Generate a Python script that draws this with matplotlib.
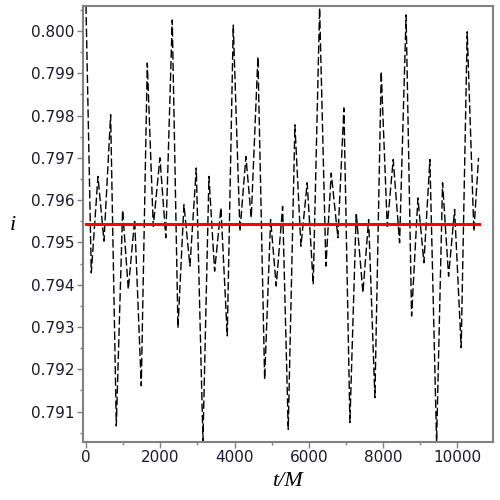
import matplotlib
matplotlib.use("Agg")
import matplotlib.pyplot as plt
from matplotlib.ticker import MultipleLocator, FormatStrFormatter

t_vals = [0, 143, 323, 485, 664, 817, 987, 1140, 1311, 1489, 1651, 1812, 1992, 2150,
          2323, 2477, 2638, 2800, 2970, 3150, 3311, 3464, 3634, 3804, 3966, 4146,
          4307, 4450, 4630, 4811, 4972, 5123, 5295, 5446, 5626, 5788, 5957, 6119,
          6291, 6461, 6604, 6784, 6946, 7107, 7277, 7457, 7611, 7780, 7950, 8112,
          8273, 8445, 8620, 8768, 8938, 9100, 9261, 9441, 9602, 9764, 9926, 10103,
          10265, 10445, 10571]
# inclination values i
i_vals = [0.80060, 0.79428, 0.79656, 0.79503, 0.79802, 0.79066, 0.79576, 0.79389,
          0.79554, 0.79161, 0.79924, 0.79538, 0.79700, 0.79511,
          0.80026, 0.79298, 0.79589, 0.79444, 0.79676, 0.79031, 0.79656, 0.79432,
          0.79582, 0.79279, 0.80014, 0.79526,
          0.79703, 0.79558, 0.79939, 0.79176, 0.79554, 0.79397, 0.79585, 0.79058,
          0.79778, 0.79491, 0.79641, 0.79401,
          0.80054, 0.79444, 0.79664, 0.79511, 0.79818, 0.79074, 0.79570, 0.79381,
          0.79554, 0.79133, 0.79904, 0.79538,
          0.79696, 0.79499, 0.80038, 0.79326, 0.79605, 0.79452, 0.79696, 0.79027,
          0.79641, 0.79420, 0.79578, 0.79251,
          0.79998, 0.79526, 0.79700]
mean_i = 0.79544
x_ticks = [0, 2000, 4000, 6000, 8000, 10000]
y_ticks = [0.791, 0.792, 0.793, 0.794, 0.795, 0.796, 0.797, 0.798, 0.799, 0.800]

fig = plt.figure(figsize=(5, 5), dpi=100)
ax = fig.add_axes([0.166, 0.116, 0.82, 0.872])

ax.plot(t_vals, i_vals, color="black", lw=1.0, linestyle=(0, (6, 2.3)), zorder=2,
        clip_on=True)
ax.plot([t_vals[0], t_vals[-1]], [mean_i, mean_i], color="#ff0000", lw=2.2, zorder=3)

ax.set_xlim(-80, 10960)
ax.set_ylim(0.79028, 0.80059)
ax.set_xticks(x_ticks)
ax.set_yticks(y_ticks)
ax.xaxis.set_minor_locator(MultipleLocator(1000))
ax.yaxis.set_minor_locator(MultipleLocator(0.0005))
ax.yaxis.set_major_formatter(FormatStrFormatter("%.3f"))

for s in ax.spines.values():
    s.set_color("#808080")
    s.set_linewidth(1.5)
ax.tick_params(which="major", length=4, width=1, color="#808080",
               labelsize=11, labelcolor="#1a1a2a", pad=2)
ax.tick_params(which="minor", length=2.5, width=1, color="#808080")

fig.text(0.574, 0.036, "t/M", fontsize=16, family="Liberation Serif", style="italic",
         ha="center", va="center")
fig.text(0.026, 0.55, "i", fontsize=16, family="Liberation Serif", style="italic",
         ha="center", va="center")

fig.savefig("out.png", dpi=100)
